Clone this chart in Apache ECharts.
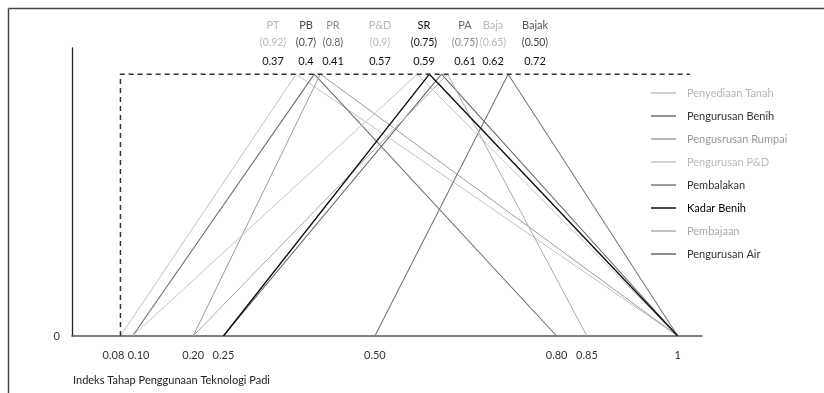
<!DOCTYPE html>
<html>
<head>
<meta charset="utf-8">
<script src="https://cdn.jsdelivr.net/npm/echarts@6/dist/echarts.min.js"></script>
<style>html,body{margin:0;padding:0;background:#fff}#c{width:824px;height:393px}</style>
</head>
<body>
<div id="c"></div>
<script>
// ---- data ----
const techCodes   = ['PT', 'PB', 'PR', 'P&D', 'SR', 'PA', 'Baja', 'Bajak'];
const techNames   = ['Penyediaan Tanah', 'Pengurusan Benih', 'Pengusrusan Rumpai', 'Pengurusan P&D',
                     'Kadar Benih', 'Pengurusan Air', 'Pembajaan', 'Pembalakan'];
const techWeights = ['0.92', '0.7', '0.8', '0.9', '0.75', '0.75', '0.65', '0.50'];
const leftFeet    = [0.08, 0.10, 0.20, 0.10, 0.25, 0.25, 0.20, 0.50];
const peakValues  = [0.37, 0.4, 0.41, 0.57, 0.59, 0.61, 0.62, 0.72];
const rightFeet   = [1, 0.80, 1, 1, 1, 1, 0.85, 1];
const legendOrder = ['Penyediaan Tanah', 'Pengurusan Benih', 'Pengusrusan Rumpai', 'Pengurusan P&D',
                     'Pembalakan', 'Kadar Benih', 'Pembajaan', 'Pengurusan Air'];
const xTickValues = [0.08, 0.10, 0.20, 0.25, 0.50, 0.80, 0.85, 1];
const yTickValues = [0];
const envelope    = [[0.08, 0], [0.08, 1], [1.02, 1]];
const axisTitle   = 'Indeks Tahap Penggunaan Teknologi Padi';

// ---- styles / layout ----
const lineColors   = ['#c2c2c2', '#707070', '#9c9c9c', '#c6c6c6', '#111111', '#676767', '#ababab', '#7a7a7a'];
const lineWidths   = [1, 1.1, 1, 1, 1.4, 1.1, 1, 1.1];
const codeColors   = ['#b8b8b8', '#444', '#8a8a8a', '#b8b8b8', '#111', '#666', '#b8b8b8', '#555'];
const weightColors = ['#b8b8b8', '#444', '#666', '#b8b8b8', '#111', '#888', '#b8b8b8', '#444'];
const legendTextColors = ['#b5b5b5', '#333', '#999', '#bbbbbb', '#333', '#000', '#aaaaaa', '#333'];
const headerX = [273, 306, 333, 380, 424, 465, 493, 535];
const FONT = 'Lato, "Noto Sans", sans-serif';

const chart = echarts.init(document.getElementById('c'), null, {renderer: 'canvas'});

const series = techCodes.map((c, i) => ({
  name: techNames[i],
  type: 'line',
  symbol: 'none',
  silent: true,
  lineStyle: {color: lineColors[i], width: lineWidths[i]},
  itemStyle: {color: lineColors[i]},
  data: [[leftFeet[i], 0], [peakValues[i], 1], [rightFeet[i], 0]],
  z: i === 4 ? 5 : 3
}));
series.push({
  name: 'envelope',
  type: 'line',
  symbol: 'none',
  silent: true,
  lineStyle: {color: '#333', width: 1.5, type: [5, 4]},
  data: envelope,
  z: 6
});

const graphics = [
  {type: 'line', shape: {x1: 8.5, y1: 8.5, x2: 824, y2: 8.5}, style: {stroke: '#444', lineWidth: 1.5}},
  {type: 'line', shape: {x1: 8.5, y1: 8.5, x2: 8.5, y2: 393}, style: {stroke: '#444', lineWidth: 1.5}},
  {type: 'text', left: 73, top: 375, style: {text: axisTitle, font: '11px ' + FONT, fill: '#222'}}
];
techCodes.forEach((c, i) => {
  graphics.push({type: 'text', x: headerX[i], y: 25, style: {text: c, font: '11px ' + FONT, fill: codeColors[i], align: 'center', verticalAlign: 'middle'}});
  graphics.push({type: 'text', x: headerX[i], y: 43, style: {text: '(' + techWeights[i] + ')', font: '10.5px ' + FONT, fill: weightColors[i], align: 'center', verticalAlign: 'middle'}});
  graphics.push({type: 'text', x: headerX[i], y: 61, style: {text: String(peakValues[i]), font: '11px ' + FONT, fill: '#111', align: 'center', verticalAlign: 'middle'}});
});

chart.setOption({
  animation: false,
  backgroundColor: '#fff',
  textStyle: {fontFamily: FONT},
  grid: {left: 72, right: 122, top: 48, bottom: 57},
  legend: {
    orient: 'vertical',
    left: 646,
    top: 81,
    icon: 'rect',
    itemWidth: 25,
    itemHeight: 1.5,
    itemGap: 9,
    selectedMode: false,
    textStyle: {fontSize: 11, fontFamily: FONT, lineHeight: 14, padding: [0, 0, 0, 6]},
    data: legendOrder.map((n, i) => ({name: n, textStyle: {color: legendTextColors[i]}}))
  },
  xAxis: {
    type: 'value',
    min: 0,
    max: 1.04,
    splitLine: {show: false},
    axisLine: {show: true, onZero: false, lineStyle: {color: '#555', width: 1.6}},
    axisTick: {show: false},
    axisLabel: {
      customValues: xTickValues,
      margin: 14,
      fontSize: 11,
      color: '#333',
      fontFamily: FONT,
      formatter: v => {
        const s = v === 1 ? '1' : v.toFixed(2);
        if (v === 0.08) return '{l|' + s + '}';
        if (v === 0.1) return '{r|' + s + '}';
        return s;
      },
      rich: {
        l: {fontSize: 11, color: '#333', fontFamily: FONT, padding: [0, 14, 0, 0]},
        r: {fontSize: 11, color: '#333', fontFamily: FONT, padding: [0, 0, 0, 12]}
      }
    }
  },
  yAxis: {
    type: 'value',
    min: 0,
    max: 1.1,
    splitLine: {show: false},
    axisLine: {show: true, onZero: false, lineStyle: {color: '#222', width: 1.3}},
    axisTick: {show: false},
    axisLabel: {customValues: yTickValues, margin: 12, fontSize: 11, color: '#333', fontFamily: FONT}
  },
  graphic: graphics,
  series: series
});
</script>
</body>
</html>
